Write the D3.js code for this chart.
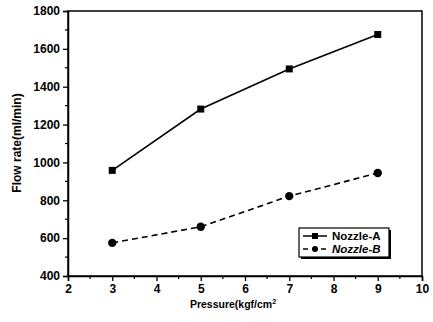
<!DOCTYPE html>
<html><head><meta charset="utf-8">
<script src="https://cdn.jsdelivr.net/npm/d3@7"></script>
<style>body{margin:0;background:#fff}svg{display:block}text{font-family:Arial,"Liberation Sans",sans-serif}</style>
</head><body><svg id="c" width="433" height="322"></svg>
<script>
const pressure = [3, 5, 7, 9];
const nozzleA = [958, 1282, 1494, 1676];
const nozzleB = [575, 660, 822, 944];
const seriesNames = ["Nozzle-A", "Nozzle-B"];
const xTicks = [2, 3, 4, 5, 6, 7, 8, 9, 10];
const yTicks = [400, 600, 800, 1000, 1200, 1400, 1600, 1800];
const xLabel = "Pressure(kgf/cm";
const yLabel = "Flow rate(ml/min)";

const svg = d3.select("#c");
const L = 68, R = 422, T = 11, B = 276;
const x = d3.scaleLinear().domain([2, 10]).range([L, R]);
const y = d3.scaleLinear().domain([400, 1800]).range([B, T]);

// frame
svg.append("rect").attr("x", L).attr("y", T).attr("width", R - L).attr("height", B - T)
  .attr("fill", "none").attr("stroke", "#000").attr("stroke-width", 1.5);

// axes
const xAxis = d3.axisBottom(x).tickValues(xTicks).tickSize(5).tickPadding(3).tickFormat(d3.format("d"));
const gx = svg.append("g").attr("transform", `translate(0,${B})`).call(xAxis);
gx.selectAll(".tick line").attr("stroke-width", 1.3);
const yAxis = d3.axisLeft(y).tickValues(yTicks).tickSize(5).tickPadding(3).tickFormat(d3.format("d"));
const gy = svg.append("g").attr("transform", `translate(${L},0)`).call(yAxis);
gy.selectAll(".tick line").attr("stroke-width", 1.3);
[gx, gy].forEach(g => {
  g.select(".domain").attr("stroke-width", 1.5);
  g.selectAll("text").attr("font-size", 12).attr("font-weight", "bold").attr("fill", "#000")
   .style("font-family", "Arial, 'Liberation Sans', sans-serif");
});
// minor ticks
const xMinor = d3.range(2.5, 10, 1);
svg.append("g").selectAll("line").data(xMinor).join("line")
  .attr("x1", d => x(d)).attr("x2", d => x(d)).attr("y1", B).attr("y2", B + 3)
  .attr("stroke", "#000").attr("stroke-width", 1.2);
const yMinor = d3.range(500, 1800, 200);
svg.append("g").selectAll("line").data(yMinor).join("line")
  .attr("x1", L).attr("x2", L - 3).attr("y1", d => y(d)).attr("y2", d => y(d))
  .attr("stroke", "#000").attr("stroke-width", 1.2);

// axis labels
const xl = svg.append("text").attr("x", 233).attr("y", 308).attr("text-anchor", "middle")
  .attr("font-size", 10.5).attr("font-weight", "bold").text(xLabel);
xl.append("tspan").attr("dy", -4).attr("font-size", 7).text("2");
svg.append("text").attr("transform", "translate(21,143) rotate(-90)").attr("text-anchor", "middle")
  .attr("font-size", 12).attr("font-weight", "bold").text(yLabel);

// lines
const dataA = pressure.map((p, i) => [p, nozzleA[i]]);
const dataB = pressure.map((p, i) => [p, nozzleB[i]]);
const line = d3.line().x(d => x(d[0])).y(d => y(d[1]));
svg.append("path").attr("d", line(dataA)).attr("fill", "none").attr("stroke", "#000").attr("stroke-width", 1.6);
svg.append("path").attr("d", line(dataB)).attr("fill", "none").attr("stroke", "#000").attr("stroke-width", 1.6)
  .attr("stroke-dasharray", "6,4");
svg.append("g").selectAll("rect").data(dataA).join("rect")
  .attr("x", d => x(d[0]) - 3.5).attr("y", d => y(d[1]) - 3.5).attr("width", 7).attr("height", 7).attr("fill", "#000");
svg.append("g").selectAll("circle").data(dataB).join("circle")
  .attr("cx", d => x(d[0])).attr("cy", d => y(d[1])).attr("r", 4.2).attr("fill", "#000");

// legend
const lx = 299, ly = 228, lw = 90, lh = 29;
svg.append("rect").attr("x", lx + 2).attr("y", ly + 2).attr("width", lw).attr("height", lh).attr("fill", "#000");
svg.append("rect").attr("x", lx).attr("y", ly).attr("width", lw).attr("height", lh).attr("fill", "#fff")
  .attr("stroke", "#000").attr("stroke-width", 1.2);
const rows = [ly + 8, ly + 21];
svg.append("line").attr("x1", lx + 4).attr("x2", lx + 28).attr("y1", rows[0]).attr("y2", rows[0]).attr("stroke", "#000").attr("stroke-width", 1.5);
svg.append("rect").attr("x", lx + 13).attr("y", rows[0] - 3).attr("width", 6).attr("height", 6).attr("fill", "#000");
svg.append("line").attr("x1", lx + 4).attr("x2", lx + 28).attr("y1", rows[1]).attr("y2", rows[1]).attr("stroke", "#000").attr("stroke-width", 1.5).attr("stroke-dasharray", "5,4");
svg.append("circle").attr("cx", lx + 16).attr("cy", rows[1]).attr("r", 3).attr("fill", "#000");
svg.append("text").attr("x", lx + 33).attr("y", rows[0] + 4).attr("font-size", 11.5).attr("font-weight", "bold").text(seriesNames[0]);
svg.append("text").attr("x", lx + 33).attr("y", rows[1] + 4).attr("font-size", 11.5).attr("font-weight", "bold").attr("font-style", "italic").text(seriesNames[1]);
</script></body></html>
